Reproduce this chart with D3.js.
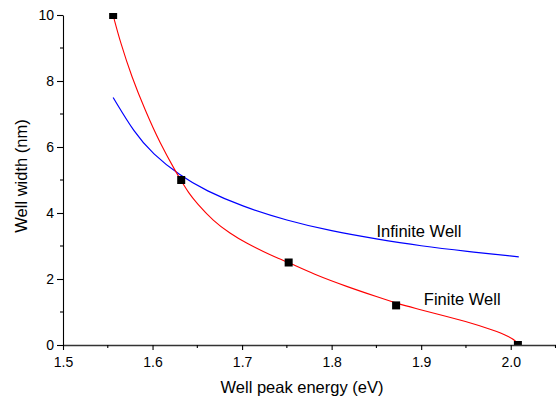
<!DOCTYPE html>
<html lang="en">
	<head>
		<meta charset="UTF-8">
		<title>Well width vs peak energy</title>
		<script src="https://d3js.org/d3.v7.min.js"></script>
		<style>
			body { margin: 0; background: #fff; }
			text { font-family: Arial, "Liberation Sans", sans-serif; fill: #000; }
		</style>
	</head>
	<body>
		<script>
			// measured points (black squares)
			var measEnergy = [1.556, 1.632, 1.752, 1.872, 2.008];
			var measWidth = [10, 5, 2.5, 1.2, 0];

			// finite well fit (red)
			var finiteEnergy = [1.5559, 1.5644, 1.5767, 1.5916, 1.6083, 1.6270, 1.6320, 1.6400, 1.6493, 1.6678, 1.6865,
								1.7051, 1.7237, 1.7423, 1.7527, 1.7795, 1.8168, 1.8540, 1.8718, 1.8949, 1.9135, 1.9507,
								1.9805, 1.9990, 2.0066, 2.0085];
			var finiteWidth = [10, 9.14, 8.13, 7.12, 6.11, 5.20, 4.98, 4.62, 4.30, 3.76, 3.38,
								3.08, 2.83, 2.60, 2.49, 2.15, 1.77, 1.43, 1.27, 1.10, 0.97, 0.71,
								0.45, 0.25, 0.10, 0];

			// infinite well (blue)
			var infiniteEnergy = [1.556, 1.58, 1.60, 1.63, 1.66, 1.70, 1.75, 1.80, 1.85, 1.90, 1.95, 2.009];
			var infiniteWidth = [7.50, 6.42, 5.80, 5.14, 4.67, 4.20, 3.77, 3.45, 3.21, 3.00, 2.84, 2.67];

			var xTicks = [1.5, 1.6, 1.7, 1.8, 1.9, 2.0];
			var xMinor = [1.55, 1.65, 1.75, 1.85, 1.95, 2.05];
			var yTicks = [0, 2, 4, 6, 8, 10];
			var yMinor = [1, 3, 5, 7, 9];

			var width = 556, height = 397;
			var padLeft = 63, padTop = 15, plotBottom = 345, plotRight = 555.5;

			var x = d3.scaleLinear()
						.domain([1.5, 2.05])
						.range([padLeft, plotRight]);

			var y = d3.scaleLinear()
						.domain([0, 10])
						.range([plotBottom, padTop]);

			var svg = d3.select('body')
						.append('svg')
						.attr('width', width)
						.attr('height', height);

			svg.append('clipPath')
				.attr('id', 'plot')
				.append('rect')
				.attr('x', padLeft)
				.attr('y', padTop - 2)
				.attr('width', width - padLeft)
				.attr('height', plotBottom - padTop + 2);

			var zip = function(a, b) { return a.map(function(d, i) { return [d, b[i]]; }); };

			var line = d3.line()
						.x(function(d) { return x(d[0]); })
						.y(function(d) { return y(d[1]); })
						.curve(d3.curveBasis);

			svg.append('path')
				.datum(zip(infiniteEnergy, infiniteWidth))
				.attr('d', line)
				.attr('fill', 'none')
				.attr('stroke', '#0000ff')
				.attr('stroke-width', 1.2);

			svg.append('path')
				.datum(zip(finiteEnergy, finiteWidth))
				.attr('d', line)
				.attr('fill', 'none')
				.attr('stroke', '#ff0000')
				.attr('stroke-width', 1.1);

			svg.append('g')
				.attr('clip-path', 'url(#plot)')
				.selectAll('rect')
				.data(zip(measEnergy, measWidth))
				.enter()
					.append('rect')
					.attr('x', function(d) { return x(d[0]) - 4; })
					.attr('y', function(d) { return y(d[1]) - 4; })
					.attr('width', 8)
					.attr('height', 8)
					.attr('fill', '#000');

			// x axis
			var xAxis = svg.append('g')
							.attr('transform', 'translate(0,' + plotBottom + ')')
							.call(d3.axisBottom(x).tickValues(xTicks).tickSize(5).tickSizeOuter(0)
								.tickFormat(d3.format('.1f')));
			xAxis.selectAll('.minor')
				.data(xMinor)
				.enter()
					.append('line')
					.attr('class', 'minor')
					.attr('x1', function(d) { return x(d); })
					.attr('x2', function(d) { return x(d); })
					.attr('y2', 3);

			// y axis
			var yAxis = svg.append('g')
							.attr('transform', 'translate(' + padLeft + ',0)')
							.call(d3.axisLeft(y).tickValues(yTicks).tickSize(6).tickSizeOuter(0));
			yAxis.selectAll('.minor')
				.data(yMinor)
				.enter()
					.append('line')
					.attr('class', 'minor')
					.attr('y1', function(d) { return y(d); })
					.attr('y2', function(d) { return y(d); })
					.attr('x2', -3);

			svg.selectAll('.domain, .tick line, .minor')
				.attr('stroke', '#000')
				.attr('stroke-width', 1.1);
			xAxis.select('.domain')
				.attr('d', 'M' + padLeft + ',0.5H' + width)
				.attr('stroke', '#333')
				.attr('stroke-width', 1.4);

			svg.selectAll('.tick text')
				.attr('font-family', 'Arial, "Liberation Sans", sans-serif')
				.attr('font-size', 14)
				.attr('fill', '#000');
			xAxis.selectAll('.tick text').attr('y', 0).attr('dy', '1.55em');
			yAxis.selectAll('.tick text').attr('x', -9);

			// titles
			svg.append('text')
				.attr('x', 302)
				.attr('y', 393)
				.attr('text-anchor', 'middle')
				.attr('font-size', 16.5)
				.text('Well peak energy (eV)');

			svg.append('text')
				.attr('transform', 'translate(27,176) rotate(-90)')
				.attr('text-anchor', 'middle')
				.attr('font-size', 16.5)
				.text('Well width (nm)');

			svg.append('text')
				.attr('x', x(1.85))
				.attr('y', 237)
				.attr('font-size', 16.5)
				.text('Infinite Well');

			svg.append('text')
				.attr('x', x(1.903))
				.attr('y', 305)
				.attr('font-size', 16.5)
				.text('Finite Well');
		</script>
	</body>
</html>
